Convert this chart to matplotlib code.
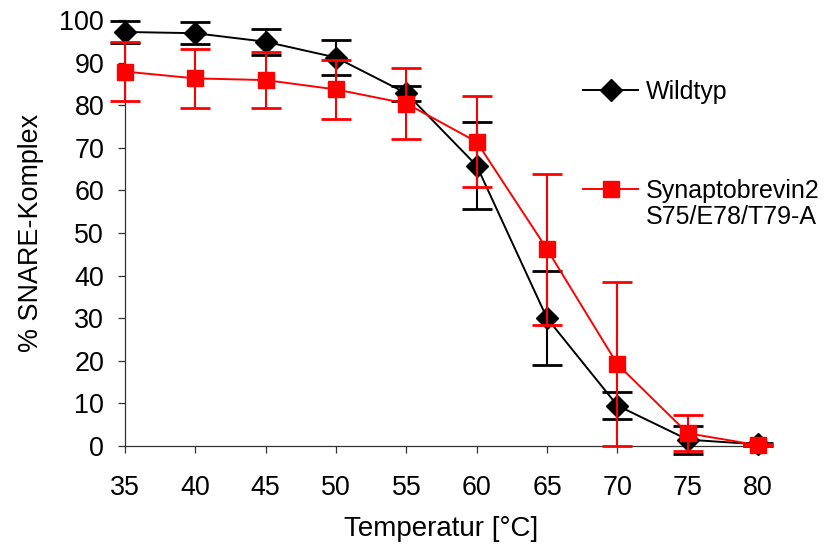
import matplotlib.pyplot as plt
from matplotlib.lines import Line2D

plt.rcParams['font.family'] = ['Liberation Sans', 'DejaVu Sans']

temp = [35, 40, 45, 50, 55, 60, 65, 70, 75, 80]

wt_mean = [97.2, 96.9, 94.9, 91.2, 82.8, 65.8, 30.0, 9.5, 1.5, 0.4]
wt_err = [2.5, 2.6, 3.1, 4.0, 1.8, 10.2, 11.0, 3.2, 3.3, 0.4]

syn_mean = [87.9, 86.3, 85.9, 83.7, 80.4, 71.4, 46.2, 19.2, 3.0, 0.2]
syn_err = [7.0, 7.0, 6.5, 7.0, 8.3, 10.7, 17.7, 19.2, 4.2, 0.2]

wt_label = 'Wildtyp'
syn_label = 'Synaptobrevin2'
syn_label2 = 'S75/E78/T79-A'

fig = plt.figure(figsize=(8.26, 5.5), dpi=100)
ax = fig.add_axes([0.1513, 0.189, 0.7665, 0.7746])

ax.errorbar(temp, wt_mean, yerr=wt_err, color='black', marker='D', markersize=11,
            lw=1.4, elinewidth=1.5, capsize=11, capthick=2, clip_on=False, zorder=3)
ax.errorbar(temp, syn_mean, yerr=syn_err, color='#ff0000', marker='s', markersize=12,
            lw=1.4, elinewidth=1.5, capsize=11, capthick=2, clip_on=False, zorder=4)

ax.set_xlim(35, 80)
ax.set_ylim(0, 100)
ax.set_xticks(temp)
ax.set_yticks(range(0, 101, 10))

for s in ['top', 'right']:
    ax.spines[s].set_visible(False)
for s in ['left', 'bottom']:
    ax.spines[s].set_color('#333333')
    ax.spines[s].set_linewidth(0.9)

ax.tick_params(direction='out', length=5, width=0.9, color='#333333',
               labelsize=19.4)
ax.tick_params(axis='x', pad=16)
ax.tick_params(axis='y', pad=10)

ax.set_xlabel('Temperatur [°C]', fontsize=20, labelpad=11)
ax.set_ylabel('% SNARE-Komplex', fontsize=19.4, labelpad=11)

# legend
h_wt = Line2D([], [], color='black', marker='D', markersize=11, lw=1.4)
h_syn = Line2D([], [], color='#ff0000', marker='s', markersize=12, lw=1.4)
h_blank = Line2D([], [], color='none')

fig.legend([h_wt], [wt_label], loc='center left', bbox_to_anchor=(0.706, 0.833),
           frameon=False, fontsize=18, handlelength=2.2, handletextpad=0.3,
           borderpad=0, borderaxespad=0)
fig.legend([h_syn, h_blank], [syn_label, syn_label2], loc='upper left',
           bbox_to_anchor=(0.706, 0.675), frameon=False, fontsize=18,
           handlelength=2.2, handletextpad=0.3, labelspacing=0.1,
           borderpad=0, borderaxespad=0)

fig.savefig('out.png', dpi=100)
